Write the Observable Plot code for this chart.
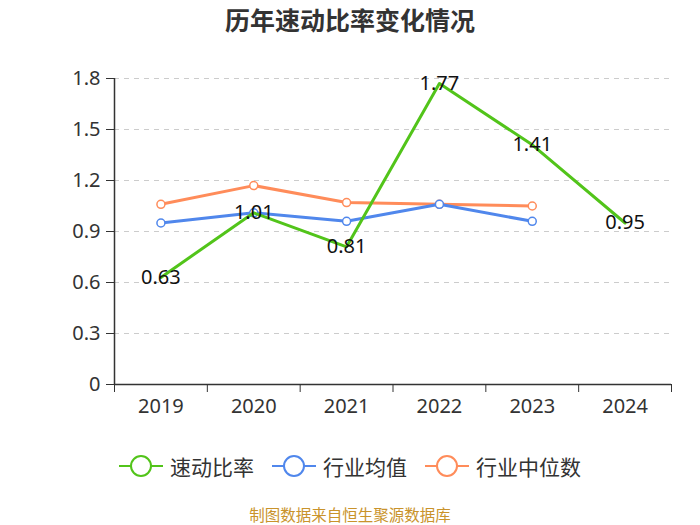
<!DOCTYPE html>
<html><head><meta charset="utf-8">
<script src="https://cdn.jsdelivr.net/npm/d3@7"></script>
<script src="https://cdn.jsdelivr.net/npm/@observablehq/plot@0.6"></script>
<style>
body{margin:0;background:#fff;font-family:"Noto Sans","Noto Sans CJK SC",sans-serif;}
#wrap{position:relative;width:700px;height:525px;}
#title{position:absolute;top:1px;left:0;width:700px;text-align:center;font-size:25px;font-weight:bold;color:#333;font-family:"Noto Sans CJK SC",sans-serif;}
#chart{position:absolute;top:50px;left:0;}
#chart svg text{font-size:20px !important;}
#legend{position:absolute;top:451px;left:0;width:700px;display:flex;justify-content:center;font-size:21px;color:#333;font-family:"Noto Sans CJK SC",sans-serif;}
.li{display:flex;align-items:center;margin:0 9px;}
.li svg{margin-right:7px;}
#caption{position:absolute;top:506px;left:0;width:700px;text-align:center;font-size:15.5px;line-height:16px;color:#c9932b;font-family:"Noto Sans CJK SC",sans-serif;}
</style></head>
<body><div id="wrap">
<div id="title">历年速动比率变化情况</div>
<div id="chart"></div>
<div id="legend"></div>
<div id="caption">制图数据来自恒生聚源数据库</div>
</div>
<script>
const years = [2019, 2020, 2021, 2022, 2023, 2024];
const quickRatio = [0.63, 1.01, 0.81, 1.77, 1.41, 0.95];
const industryMean = [0.95, 1.01, 0.96, 1.06, 0.96];
const industryMedian = [1.06, 1.17, 1.07, 1.06, 1.05];
const yTicks = [0, 0.3, 0.6, 0.9, 1.2, 1.5, 1.8];
const seriesNames = ["速动比率", "行业均值", "行业中位数"];
const colors = ["#52c41a", "#5087ec", "#ff8c5a"];

const green = years.map((y, i) => ({year: y, v: quickRatio[i]}));
const blue = industryMean.map((v, i) => ({year: years[i], v}));
const orange = industryMedian.map((v, i) => ({year: years[i], v}));
const bounds = d3.range(years.length + 1).map(i => years[0] - 0.5 + i);

const chart = Plot.plot({
  width: 700, height: 374,
  marginLeft: 114, marginRight: 29, marginTop: 28, marginBottom: 40,
  style: {fontFamily: "Noto Sans, sans-serif", fontSize: "20px", color: "#333", background: "transparent"},
  x: {type: "linear", domain: [years[0] - 0.5, years[years.length - 1] + 0.5], label: null},
  y: {domain: [0, 1.8], label: null},
  marks: [
    Plot.gridY(yTicks.slice(1), {stroke: "#ccc", strokeOpacity: 1, strokeDasharray: "5,5", strokeWidth: 1}),
    Plot.axisY({ticks: yTicks, tickSize: 8, tickPadding: 6, tickFormat: d => String(d), label: null, stroke: "#333", fill: "#333", fontSize: 20}),
    Plot.ruleX([years[0] - 0.5], {stroke: "#333", strokeWidth: 1.5}),
    Plot.ruleY([0], {stroke: "#333", strokeWidth: 1.5}),
    Plot.axisX({ticks: bounds, tickSize: 8, tickFormat: () => "", label: null, stroke: "#333"}),
    Plot.axisX({ticks: years, tickSize: 0, tickPadding: 14, tickFormat: d => String(d), label: null, fill: "#333", fontSize: 20}),
    Plot.line(orange, {x: "year", y: "v", stroke: colors[2], strokeWidth: 3}),
    Plot.dot(orange, {x: "year", y: "v", r: 4, fill: "#fff", stroke: colors[2], strokeWidth: 1.5}),
    Plot.line(blue, {x: "year", y: "v", stroke: colors[1], strokeWidth: 3}),
    Plot.dot(blue, {x: "year", y: "v", r: 4, fill: "#fff", stroke: colors[1], strokeWidth: 1.5}),
    Plot.line(green, {x: "year", y: "v", stroke: colors[0], strokeWidth: 3}),
    Plot.text(green, {x: "year", y: "v", text: d => d.v.toFixed(2), fontSize: 20, fill: "#111", dy: 0})
  ]
});
document.getElementById("chart").appendChild(chart);

const legend = document.getElementById("legend");
seriesNames.forEach((n, i) => {
  const d = document.createElement("div");
  d.className = "li";
  d.innerHTML = `<svg width="44" height="26"><line x1="0" y1="13" x2="44" y2="13" stroke="${colors[i]}" stroke-width="2"/><circle cx="22" cy="13" r="10" fill="#fff" stroke="${colors[i]}" stroke-width="2"/></svg><span>${n}</span>`;
  legend.appendChild(d);
});
</script>
</body></html>
